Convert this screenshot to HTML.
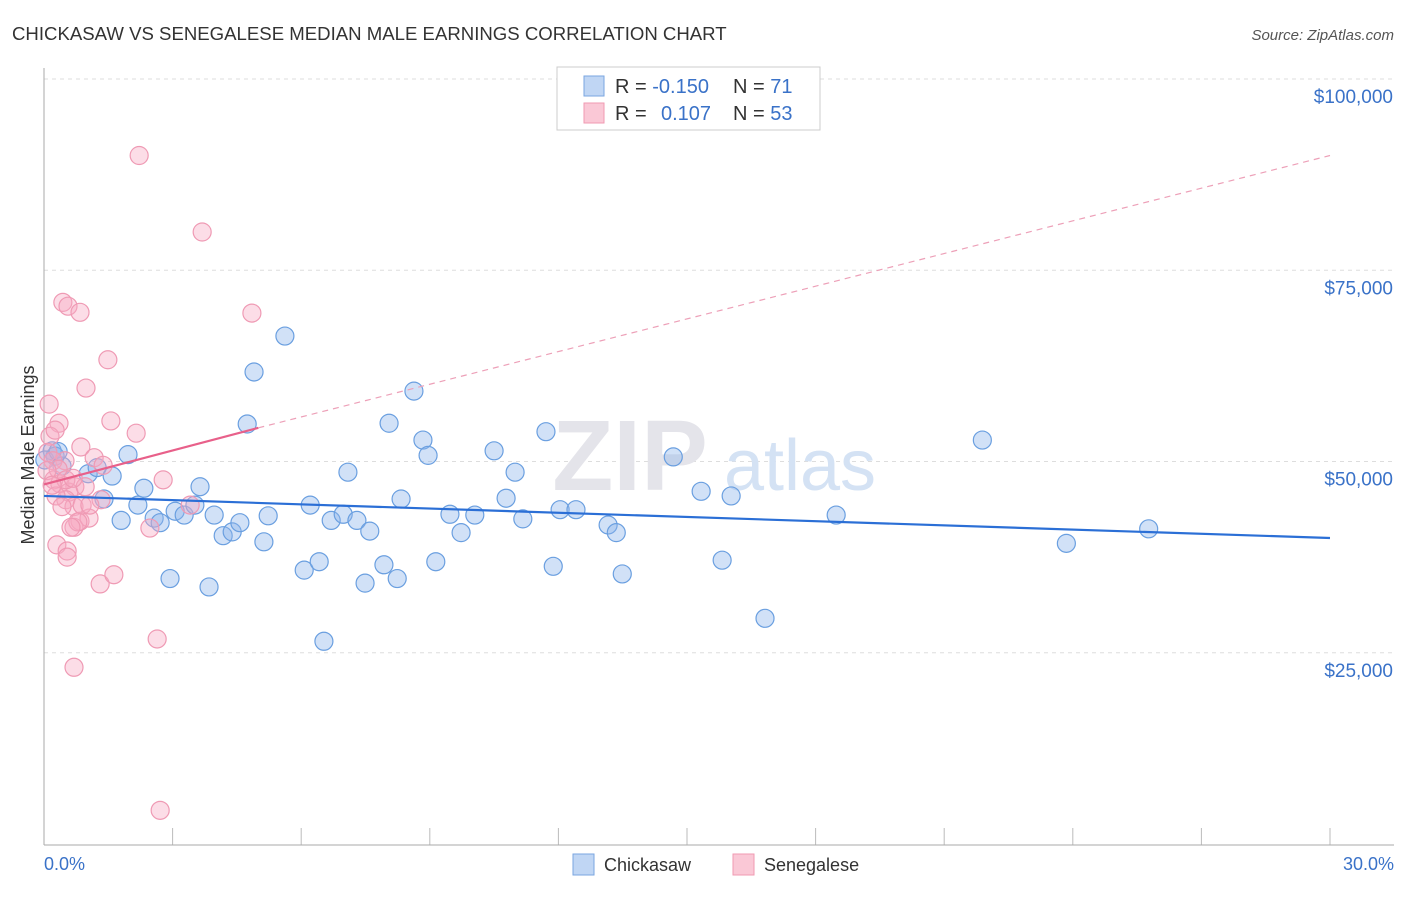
<!DOCTYPE html>
<html><head><meta charset="utf-8"><style>
body{margin:0;background:#fff;font-family:"Liberation Sans",sans-serif}
svg text{font-family:"Liberation Sans",sans-serif}
</style></head><body>
<svg id="chart" width="1406" height="892">
<text x="12" y="40" font-size="18.6" fill="#333">CHICKASAW VS SENEGALESE MEDIAN MALE EARNINGS CORRELATION CHART</text>
<text x="1394" y="40" font-size="15" fill="#555" font-style="italic" text-anchor="end">Source: ZipAtlas.com</text>
<g id="grid"></g>
<text x="630" y="490" font-size="100" fill="#e4e4ea" font-family="Liberation Serif" font-weight="bold" text-anchor="middle">ZIP</text>
<text x="800" y="490" font-size="72" fill="#d4e2f4" text-anchor="middle">atlas</text>
<line x1="44" y1="68" x2="44" y2="845" stroke="#aaa"/>
<line x1="44" y1="845" x2="1394" y2="845" stroke="#aaa"/>
<text transform="translate(34,455) rotate(-90)" font-size="18" fill="#333" text-anchor="middle">Median Male Earnings</text>
<text x="44" y="870" font-size="18" fill="#3a72c8">0.0%</text>
<text x="1394" y="870" font-size="18" fill="#3a72c8" text-anchor="end">30.0%</text>
<g id="pts"></g>
<g id="lines"></g>
<g>
<rect x="557" y="67" width="263" height="63" fill="#fff" stroke="#ccc"/>
<rect x="584" y="76" width="20" height="20" fill="#c0d6f4" stroke="#7aa6e0"/>
<rect x="584" y="103" width="20" height="20" fill="#fac8d6" stroke="#f09ab2"/>
<text x="615" y="93" font-size="20" fill="#333">R = <tspan fill="#3a72c8">-0.150</tspan><tspan x="733">N = </tspan><tspan fill="#3a72c8">71</tspan></text>
<text x="615" y="120" font-size="20" fill="#333">R = <tspan x="661" fill="#3a72c8">0.107</tspan><tspan x="733">N = </tspan><tspan fill="#3a72c8">53</tspan></text>
</g>
<g>
<rect x="573" y="854" width="21" height="21" fill="#c0d6f4" stroke="#7aa6e0"/>
<text x="604" y="871" font-size="18" fill="#333">Chickasaw</text>
<rect x="733" y="854" width="21" height="21" fill="#fac8d6" stroke="#f09ab2"/>
<text x="764" y="871" font-size="18" fill="#333">Senegalese</text>
</g>
</svg>
<script>
const yTicks=[25000,50000,75000,100000];
const yTickLabels=["$25,000","$50,000","$75,000","$100,000"];
const xTicks=[0,3,6,9,12,15,18,21,24,27,30];
const blueX=[0.19,0.26,0.42,1.03,1.24,1.4,1.59,1.8,1.96,2.19,2.33,2.57,2.71,2.94,3.06,3.27,3.52,3.64,3.85,3.97,4.18,4.39,4.57,4.74,4.9,5.13,5.23,5.62,6.07,6.21,6.42,6.53,6.7,6.98,7.09,7.3,7.49,7.6,7.93,8.05,8.24,8.33,8.63,8.84,8.96,9.14,9.47,9.73,10.05,10.5,10.78,10.99,11.17,11.71,11.88,12.04,12.41,13.16,13.35,13.49,14.68,15.33,15.82,16.03,16.82,18.48,21.89,23.85,25.77,0.02,0.33];
const blueY=[51400,50700,49400,48400,49200,45100,48100,42300,50900,44300,46500,42600,42000,34700,43500,43000,44300,46700,33600,43000,40300,40800,42000,54900,61700,39500,42900,66400,35800,44300,36900,26500,42300,43100,48600,42300,34100,40900,36500,55000,34700,45100,59200,52800,50800,36900,43100,40700,43000,51400,45200,48600,42500,53900,36300,43700,43700,41700,40700,35300,50600,46100,37100,45500,29500,43000,52800,39300,41200,50200,51300];
const pinkX=[2.22,3.69,0.44,0.56,0.84,4.85,1.49,0.98,0.12,1.56,0.35,2.15,0.14,0.26,0.86,1.17,1.38,0.49,2.78,0.23,0.37,0.72,0.58,0.96,1.33,0.51,0.7,0.84,0.7,1.05,0.79,0.63,0.3,0.54,0.54,1.31,1.63,2.64,0.7,2.71,2.47,3.41,0.09,0.21,0.33,0.07,0.28,0.42,0.89,1.07,0.51,0.68,0.19];
const pinkY=[90000,80000,70800,70300,69500,69400,63300,59600,57500,55300,55000,53700,53300,54100,51900,50500,49500,50100,47600,47600,47100,46700,46000,46700,45000,45000,44100,42200,41400,42600,42100,41400,39100,38300,37500,34000,35200,26800,23100,4400,41300,44300,51200,50100,49000,48800,45500,44100,44300,44300,47600,47800,46900];
const blueTrend=[[0,45500],[30,40000]];
const pinkTrend=[[0,47000],[5,54400],[30,90000]];
const NS="http://www.w3.org/2000/svg";
const sx=v=>44+v/30*1286;
const sy=v=>844-v*0.00765;
function mk(t,a,p){const e=document.createElementNS(NS,t);for(const k in a)e.setAttribute(k,a[k]);p.appendChild(e);return e;}
const grid=document.getElementById('grid');
yTicks.forEach((v,i)=>{
 const l=mk('line',{x1:44,x2:1394,y1:sy(v),y2:sy(v),stroke:'#ddd','stroke-dasharray':'4,4'},grid);
 
 
 const t=mk('text',{x:1393,y:sy(v)+24,'font-size':19,fill:'#3a72c8','text-anchor':'end'},grid);
 t.textContent=yTickLabels[i];
 
 
});
const topLine=mk('line',{x1:44,x2:1394,y1:79,y2:79,stroke:'#ddd','stroke-dasharray':'4,4'},grid);


xTicks.forEach(v=>{
 const l=mk('line',{x1:sx(v),x2:sx(v),y1:828,y2:845,stroke:'#bbb'},grid);
 
 
});
const pts=document.getElementById('pts');
blueX.forEach((x,i)=>{
 const c=mk('circle',{cx:sx(x),cy:sy(blueY[i]),r:9,fill:'rgba(140,180,235,0.4)',stroke:'#6a9fe0','stroke-width':1.2},pts);
 
 
});
pinkX.forEach((x,i)=>{
 const c=mk('circle',{cx:sx(x),cy:sy(pinkY[i]),r:9,fill:'rgba(248,170,195,0.4)',stroke:'#ef9ab4','stroke-width':1.2},pts);
 
 
});
const lines=document.getElementById('lines');
const bl=mk('line',{x1:sx(blueTrend[0][0]),y1:sy(blueTrend[0][1]),x2:sx(blueTrend[1][0]),y2:sy(blueTrend[1][1]),stroke:'#2b6fd6','stroke-width':2.2},lines);


const pl=mk('line',{x1:sx(pinkTrend[0][0]),y1:sy(pinkTrend[0][1]),x2:sx(pinkTrend[1][0]),y2:sy(pinkTrend[1][1]),stroke:'#e8608a','stroke-width':2.2},lines);


const pd=mk('line',{x1:sx(pinkTrend[1][0]),y1:sy(pinkTrend[1][1]),x2:sx(pinkTrend[2][0]),y2:sy(pinkTrend[2][1]),stroke:'#eda0b8','stroke-width':1.2,'stroke-dasharray':'6,5'},lines);


</script>
</body></html>
